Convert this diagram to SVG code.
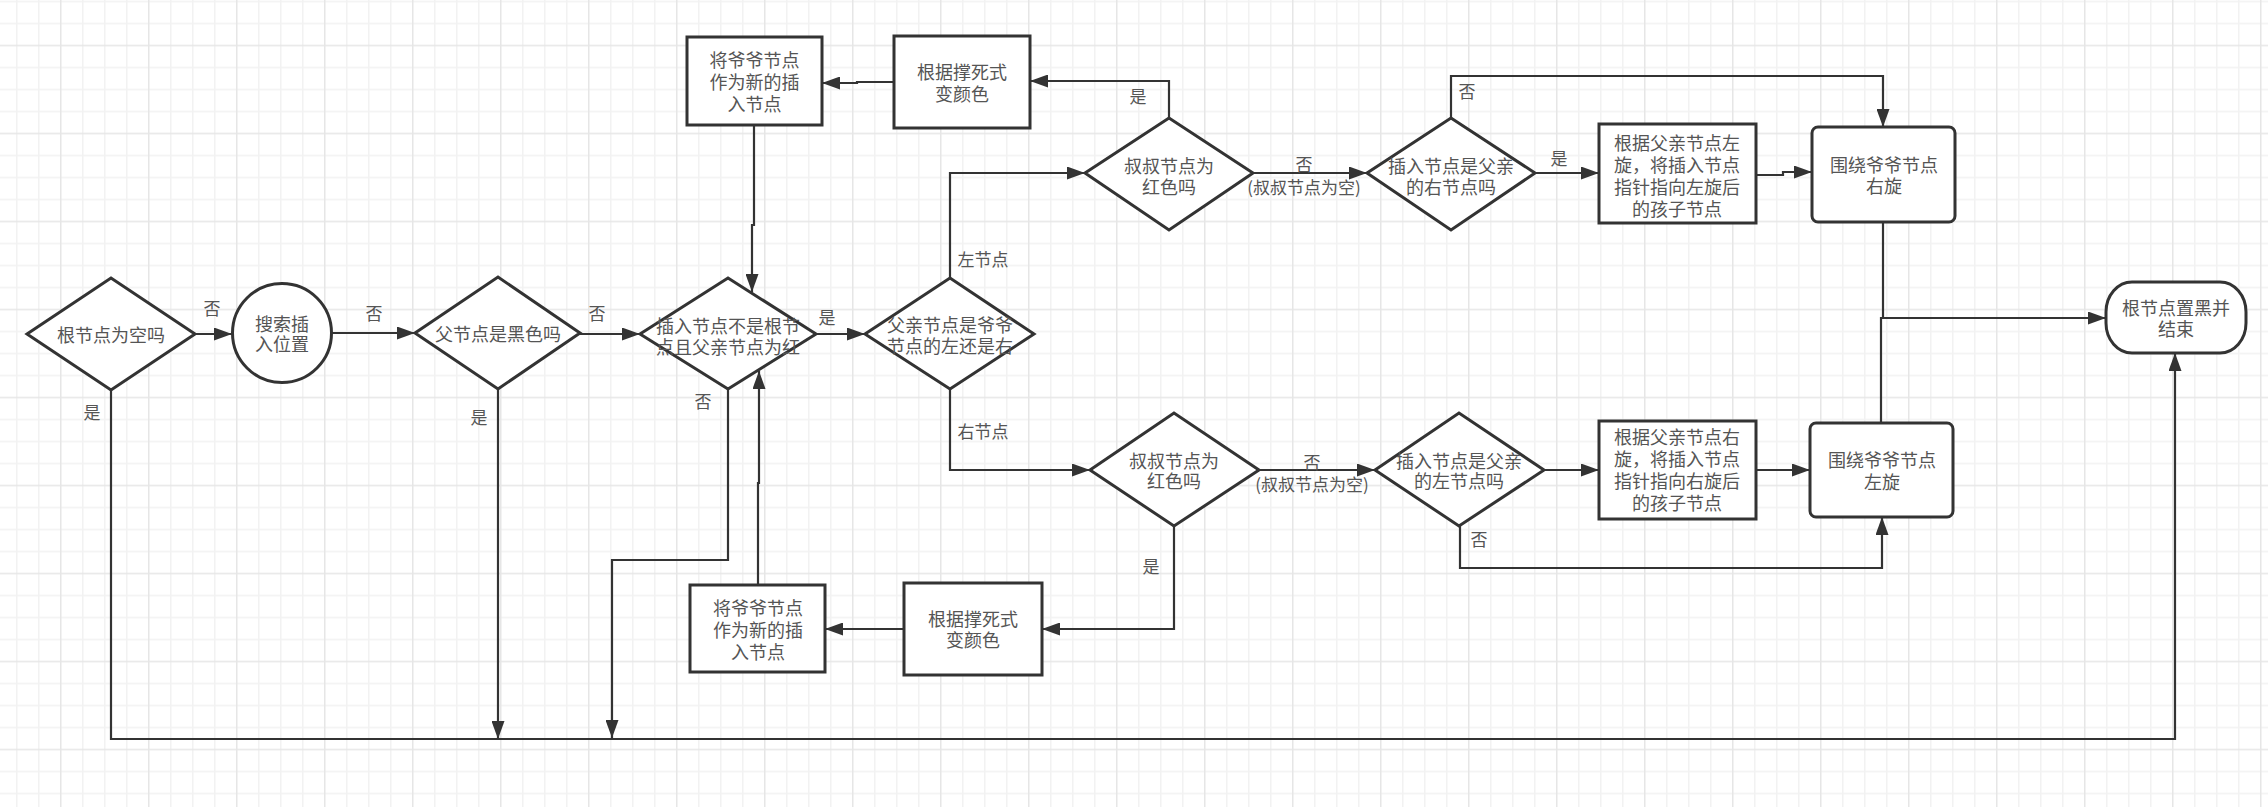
<svg xmlns="http://www.w3.org/2000/svg" width="2268" height="807" viewBox="0 0 2268 807">
<style>
.s{fill:#fff;stroke:#333;stroke-width:3}
.c{fill:none;stroke:#333;stroke-width:2.2}
.t{font-family:"Noto Sans CJK SC","Noto Sans",sans-serif;font-size:18px;fill:#555;text-anchor:middle}
.l{font-family:"Noto Sans CJK SC","Noto Sans",sans-serif;font-size:17px;fill:#555;text-anchor:middle}
</style>
<defs>
<pattern id="grid" x="60" y="44.7" width="88" height="88" patternUnits="userSpaceOnUse">
<rect width="88" height="88" fill="#fff"/>
<path d="M22.75 0V88M44.75 0V88M66.75 0V88M0 22.75H88M0 44.75H88M0 66.75H88" stroke="#f2f2f2" stroke-width="1.5"/>
<path d="M0.75 0V88M0 0.75H88" stroke="#e6e6e6" stroke-width="1.5"/>
</pattern>
<marker id="a" markerUnits="userSpaceOnUse" markerWidth="18" markerHeight="13" refX="18" refY="6.5" orient="auto">
<path d="M0,0 L18,6.5 L0,13 Z" fill="#333"/>
</marker>
</defs>
<rect width="2268" height="807" fill="url(#grid)"/>

<g id="connectors">
<path class="c" d="M194,334 H232" marker-end="url(#a)"/>
<path class="c" d="M332,333 H415" marker-end="url(#a)"/>
<path class="c" d="M580,334 H640" marker-end="url(#a)"/>
<path class="c" d="M816,334 H865" marker-end="url(#a)"/>
<path class="c" d="M950,278 V173 H1085" marker-end="url(#a)"/>
<path class="c" d="M950,389 V470 H1090" marker-end="url(#a)"/>
<path class="c" d="M1169,118 V81 H1030" marker-end="url(#a)"/>
<path class="c" d="M894,82 H857 V83 H822" marker-end="url(#a)"/>
<path class="c" d="M754,125 V225 H752 V292" marker-end="url(#a)"/>
<path class="c" d="M1253,173 H1367" marker-end="url(#a)"/>
<path class="c" d="M1535,173 H1599" marker-end="url(#a)"/>
<path class="c" d="M1451,118 V76 H1883 V127" marker-end="url(#a)"/>
<path class="c" d="M1756,175 H1783 V172 H1812" marker-end="url(#a)"/>
<path class="c" d="M1883,222 V318"/>
<path class="c" d="M1881,423 V318 H2106" marker-end="url(#a)"/>
<path class="c" d="M1259,470 H1375" marker-end="url(#a)"/>
<path class="c" d="M1544,470 H1599" marker-end="url(#a)"/>
<path class="c" d="M1756,470 H1810" marker-end="url(#a)"/>
<path class="c" d="M1460,526 V568 H1882 V517" marker-end="url(#a)"/>
<path class="c" d="M1174,526 V629 H1042" marker-end="url(#a)"/>
<path class="c" d="M904,629 H825" marker-end="url(#a)"/>
<path class="c" d="M758,585 V483 H759 V371" marker-end="url(#a)"/>
<path class="c" d="M111,390 V739 H2175 V353" marker-end="url(#a)"/>
<path class="c" d="M498,389 V739" marker-end="url(#a)"/>
<path class="c" d="M728,389 V560 H612 V738" marker-end="url(#a)"/>
<text class="l" x="212" y="315">否</text>
<text class="l" x="374" y="320">否</text>
<text class="l" x="597" y="320">否</text>
<text class="l" x="92" y="419">是</text>
<text class="l" x="479" y="424">是</text>
<text class="l" x="827" y="324">是</text>
<text class="l" x="703" y="408">否</text>
<text class="l" x="983" y="266">左节点</text>
<text class="l" x="983" y="438">右节点</text>
<text class="l" x="1138" y="103">是</text>
<text class="l" x="1304" y="171">否</text>
<text class="l" x="1304" y="194">(叔叔节点为空)</text>
<text class="l" x="1467" y="98">否</text>
<text class="l" x="1559" y="165">是</text>
<text class="l" x="1312" y="469">否</text>
<text class="l" x="1312" y="491">(叔叔节点为空)</text>
<text class="l" x="1479" y="546">否</text>
<text class="l" x="1151" y="573">是</text>
</g>

<g id="n_root_empty">
<polygon class="s" points="27,334 111,278 195,334 111,390"/>
<text class="t" x="111" y="341.5">根节点为空吗</text>
</g>
<g id="n_search">
<circle class="s" cx="282" cy="333" r="49.5"/>
<text class="t" x="282"><tspan x="282" y="330.5">搜索插</tspan><tspan x="282" y="351">入位置</tspan></text>
</g>
<g id="n_parent_black">
<polygon class="s" points="415,333 498,277 580,333 498,389"/>
<text class="t" x="498" y="340.5">父节点是黑色吗</text>
</g>
<g id="n_loop">
<polygon class="s" points="640,334 728,278 816,334 728,389"/>
<text class="t"><tspan x="728" y="332.5">插入节点不是根节</tspan><tspan x="728" y="353.5">点且父亲节点为红</tspan></text>
</g>
<g id="n_left_right">
<polygon class="s" points="865,334 950,278 1034,334 950,389"/>
<text class="t"><tspan x="950" y="331.5">父亲节点是爷爷</tspan><tspan x="950" y="353">节点的左还是右</tspan></text>
</g>
<g id="n_top_newinsert">
<rect class="s" x="687" y="37" width="135" height="88"/>
<text class="t"><tspan x="754.5" y="66.5">将爷爷节点</tspan><tspan x="754.5" y="88.5">作为新的插</tspan><tspan x="754.5" y="110.5">入节点</tspan></text>
</g>
<g id="n_top_recolor">
<rect class="s" x="894" y="36" width="136" height="92"/>
<text class="t"><tspan x="962" y="78.5">根据撑死式</tspan><tspan x="962" y="100.5">变颜色</tspan></text>
</g>
<g id="n_top_uncle">
<polygon class="s" points="1085,173 1169,118 1253,173 1169,230"/>
<text class="t"><tspan x="1169" y="172.5">叔叔节点为</tspan><tspan x="1169" y="193.5">红色吗</tspan></text>
</g>
<g id="n_top_isright">
<polygon class="s" points="1367,173 1451,118 1535,173 1451,230"/>
<text class="t"><tspan x="1451" y="173">插入节点是父亲</tspan><tspan x="1451" y="194">的右节点吗</tspan></text>
</g>
<g id="n_top_leftrot">
<rect class="s" x="1599" y="124" width="157" height="99"/>
<text class="t"><tspan x="1677" y="149.5">根据父亲节点左</tspan><tspan x="1677" y="171.5">旋，将插入节点</tspan><tspan x="1677" y="193.5">指针指向左旋后</tspan><tspan x="1677" y="215.5">的孩子节点</tspan></text>
</g>
<g id="n_top_rotright">
<rect class="s" x="1812" y="127" width="143" height="95" rx="6"/>
<text class="t"><tspan x="1884" y="171.5">围绕爷爷节点</tspan><tspan x="1884" y="193">右旋</tspan></text>
</g>
<g id="n_end">
<rect class="s" x="2106" y="282" width="140" height="71" rx="26" ry="30"/>
<text class="t"><tspan x="2176" y="314.5">根节点置黑并</tspan><tspan x="2176" y="335.5">结束</tspan></text>
</g>
<g id="n_bot_uncle">
<polygon class="s" points="1090,470 1174,413 1259,470 1174,526"/>
<text class="t"><tspan x="1174" y="467.5">叔叔节点为</tspan><tspan x="1174" y="488">红色吗</tspan></text>
</g>
<g id="n_bot_isleft">
<polygon class="s" points="1375,470 1459,413 1544,470 1459,526"/>
<text class="t"><tspan x="1459" y="467.5">插入节点是父亲</tspan><tspan x="1459" y="488">的左节点吗</tspan></text>
</g>
<g id="n_bot_rightrot">
<rect class="s" x="1599" y="421" width="157" height="98"/>
<text class="t"><tspan x="1677" y="443.5">根据父亲节点右</tspan><tspan x="1677" y="465.5">旋，将插入节点</tspan><tspan x="1677" y="487.5">指针指向右旋后</tspan><tspan x="1677" y="509.5">的孩子节点</tspan></text>
</g>
<g id="n_bot_rotleft">
<rect class="s" x="1810" y="423" width="143" height="94" rx="6"/>
<text class="t"><tspan x="1882" y="466.5">围绕爷爷节点</tspan><tspan x="1882" y="488.5">左旋</tspan></text>
</g>
<g id="n_bot_recolor">
<rect class="s" x="904" y="583" width="138" height="92"/>
<text class="t"><tspan x="973" y="625.5">根据撑死式</tspan><tspan x="973" y="647">变颜色</tspan></text>
</g>
<g id="n_bot_newinsert">
<rect class="s" x="690" y="585" width="135" height="87"/>
<text class="t"><tspan x="758" y="614.5">将爷爷节点</tspan><tspan x="758" y="636.5">作为新的插</tspan><tspan x="758" y="658.5">入节点</tspan></text>
</g>
</svg>
